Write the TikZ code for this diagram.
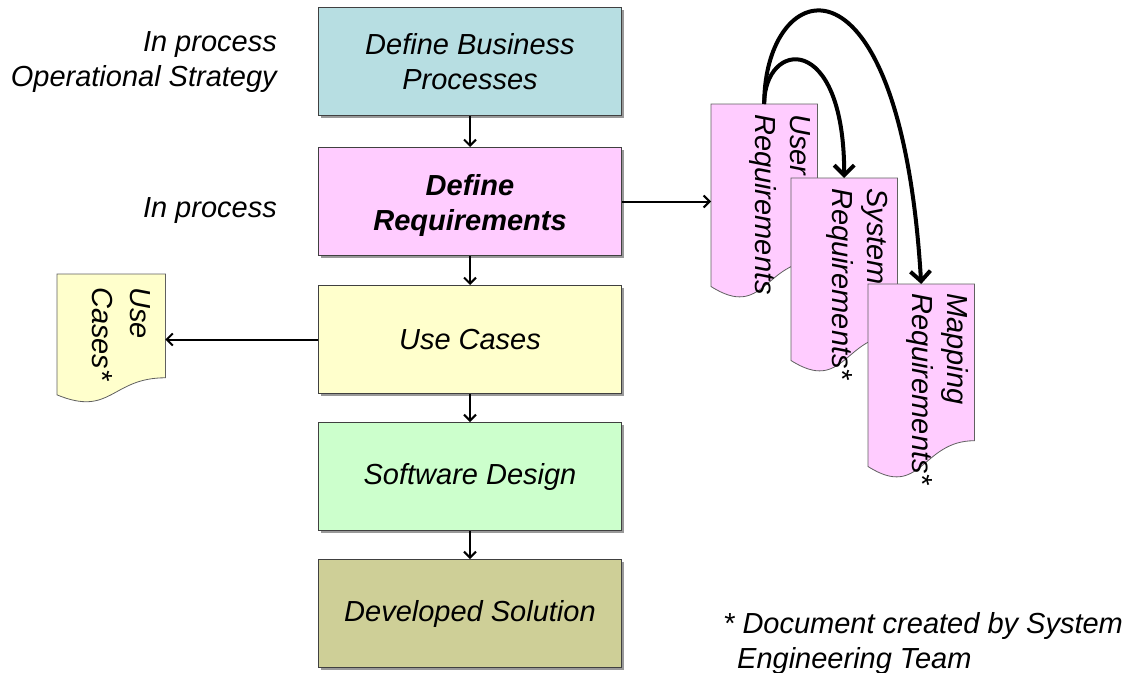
\documentclass[tikz,border=0pt]{standalone}
\usepackage{fontspec}
\setmainfont{Liberation Sans}
\usetikzlibrary{arrows.meta,calc,shadows}
\definecolor{cBiz}{RGB}{183,222,226}
\definecolor{cReq}{RGB}{255,204,255}
\definecolor{cUse}{RGB}{255,255,204}
\definecolor{cSw}{RGB}{204,255,204}
\definecolor{cDev}{RGB}{206,207,151}
\definecolor{cBorder}{RGB}{64,64,64}
\definecolor{cDocBorder}{RGB}{96,96,96}
\newcommand\docshape[2]{%
  \path[#2] (#1.north west) -- (#1.north east)
    -- ($(#1.north east)!0.802!(#1.south east)$)
    .. controls ($(#1.north)!0.802!(#1.south)$) and ($(#1.north)!1.107!(#1.south)$)
    .. ($(#1.north west)!0.934!(#1.south west)$) -- cycle;}
\begin{document}
\begin{tikzpicture}[x=1pt,y=-1pt,
  txt/.style={font=\fontsize{29}{35}\selectfont\itshape, inner sep=0pt},
  box/.style={draw=cBorder, line width=1pt, minimum width=303pt, minimum height=108pt,
    inner sep=0pt, anchor=north west, align=center, font=\fontsize{29}{35}\selectfont\itshape,
    drop shadow={shadow xshift=2.5pt, shadow yshift=-2.5pt, opacity=0.4, fill=black}},
  docnode/.style={minimum width=106pt, minimum height=195pt, inner sep=0pt, anchor=north west},
  docfill/.style={draw=cDocBorder, line width=0.8pt, fill=#1},
  doctext/.style={txt, rotate=-90, anchor=north west, align=left},
  arr/.style={line width=2pt, -{Straight Barb[length=6pt,width=12pt]}},
  bigarr/.style={line width=4pt, -{Straight Barb[length=10pt,width=20pt]}},
]
\useasboundingbox (0,0) rectangle (1124,672);

% main process boxes
\node[box, fill=cBiz] (b1) at (318,7) {Define Business\\Processes};
\node[box, fill=cReq, font=\fontsize{29}{35}\selectfont\bfseries\itshape] (b2) at (318,147) {\rule{0pt}{29pt}Define\\Requirements};
\node[box, fill=cUse] (b3) at (318,285) {Use Cases};
\node[box, fill=cSw] (b4) at (318,422) {Software Design};
\node[box, fill=cDev] (b5) at (318,559) {Developed Solution};

% left labels
\node[txt, align=right, anchor=north east] (l1) at (277,31.5) {In process\\Operational Strategy};
\node[txt, anchor=base east] (l2) at (277,217) {In process};

% use cases document
\node[docnode, minimum height=129pt, minimum width=108pt] (ud) at (57,274) {};
\docshape{ud}{docfill=cUse}
\node[doctext, font=\fontsize{29}{38}\selectfont\itshape] (udt) at ([xshift=-15pt,yshift=-13pt]ud.north east) {Use\\Cases*};

% requirement documents
\node[docnode] (ur) at (711,104) {};
\docshape{ur}{docfill=cReq}
\node[doctext] (urt) at ([xshift=-7pt,yshift=-10pt]ur.north east) {User\\Requirements};
\node[docnode] (sr) at (791,178) {};
\docshape{sr}{docfill=cReq}
\node[doctext] (srt) at ([xshift=-9pt,yshift=-10pt]sr.north east) {System\\Requirements*};
\node[docnode] (mr) at (868,284) {};
\docshape{mr}{docfill=cReq}
\node[doctext] (mrt) at ([xshift=-6pt,yshift=-9pt]mr.north east) {Mapping\\Requirements*};

% footnote
\node[txt, align=left, anchor=north west] (fn) at (723,612) {* Document created by System\\\hspace*{14pt}Engineering Team};

% connectors
\draw[arr] (b1.south) -- (b2.north);
\draw[arr] (b2.south) -- (b3.north);
\draw[arr] (b3.south) -- (b4.north);
\draw[arr] (b4.south) -- (b5.north);
\draw[arr] (b2.east) -- (b2.east -| ur.west);
\draw[arr] (b3.west) -- (b3.west -| ud.east);
\draw[bigarr] (ur.north) .. controls +(0,-64) and +(0,-148) .. (sr.north);
\draw[bigarr] (ur.north) .. controls +(0,-129) and +(-21,-349) .. (mr.north);
\end{tikzpicture}
\end{document}
